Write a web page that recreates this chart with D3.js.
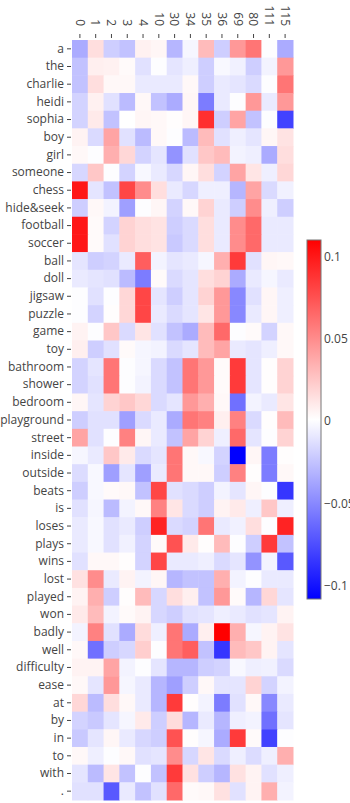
<!DOCTYPE html>
<html>
<head>
<meta charset="utf-8">
<script src="https://cdn.jsdelivr.net/npm/d3@7"></script>
<style>
    body { margin: 0; background: #fff; }
    text { font-family: "Open Sans", sans-serif; fill: #444; }
</style>
</head>
<body>
<div id="heatmap"></div>
<script>
const cols = ['0', '1', '2', '3', '4', '10', '30', '34', '35', '36', '69', '80', '111', '115'];

const rows = ['a', 'the', 'charlie', 'heidi', 'sophia', 'boy', 'girl', 'someone',
    'chess', 'hide&seek', 'football', 'soccer', 'ball', 'doll', 'jigsaw', 'puzzle',
    'game', 'toy', 'bathroom', 'shower', 'bedroom', 'playground', 'street', 'inside',
    'outside', 'beats', 'is', 'loses', 'plays', 'wins', 'lost', 'played', 'won',
    'badly', 'well', 'difficulty', 'ease', 'at', 'by', 'in', 'to', 'with', '.'];

// one row per word, one value per column
const values = [
    [-0.035, 0.015, -0.02, -0.025, 0.007, 0.005, -0.03, -0.003, 0.03, -0.02, 0.045, 0.06, 0, -0.035],
    [-0.025, 0.008, 0.007, 0.003, -0.012, 0, -0.01, -0.006, -0.02, -0.002, -0.005, -0.02, -0.004, 0.045],
    [-0.025, 0.015, 0.004, 0.004, -0.008, -0.008, -0.008, 0.004, -0.02, -0.008, -0.01, -0.015, 0, 0.06],
    [-0.018, 0.007, -0.012, -0.028, 0.004, -0.025, -0.035, 0.005, -0.055, -0.008, 0, 0.045, -0.008, 0.045],
    [-0.018, 0.01, -0.025, 0.001, 0.005, 0.004, 0.002, 0.005, 0.09, -0.02, 0.04, -0.025, 0, -0.08],
    [0.006, -0.015, 0.04, -0.012, -0.028, 0.004, 0, -0.028, 0.03, -0.012, -0.006, -0.01, 0.005, 0.013],
    [0.004, 0, 0.035, 0.018, -0.018, -0.01, -0.045, -0.012, 0.025, 0.03, -0.004, -0.006, -0.035, 0.015],
    [-0.016, 0.025, 0, -0.018, -0.002, -0.008, -0.016, 0.005, 0.015, -0.018, 0.04, 0.012, -0.006, 0.018],
    [0.1, -0.01, -0.025, 0.08, 0.05, 0.015, -0.008, -0.016, -0.006, -0.006, -0.03, 0.04, -0.015, -0.005],
    [-0.02, 0.004, -0.004, -0.04, 0, 0.005, -0.018, 0.004, 0.02, -0.008, -0.02, 0.05, -0.006, -0.02],
    [0.1, 0.003, -0.018, 0.02, 0.015, 0.013, -0.02, -0.015, 0.015, -0.008, 0.05, 0.065, -0.008, -0.008],
    [0.1, 0.003, -0.012, 0.02, 0.015, 0.013, -0.022, -0.015, 0.015, -0.008, 0.05, 0.065, -0.008, -0.008],
    [-0.01, -0.02, -0.018, -0.008, 0.07, -0.004, -0.01, -0.008, -0.003, 0.035, 0.085, -0.012, 0.005, 0.004],
    [-0.008, -0.01, -0.012, -0.028, -0.055, 0.003, -0.015, -0.01, 0.015, 0.02, -0.035, -0.008, -0.003, -0.008],
    [0, -0.012, 0, 0.018, 0.08, -0.01, -0.02, -0.01, 0.02, 0.045, -0.05, -0.012, 0.005, -0.006],
    [0, -0.018, 0.002, 0.018, 0.08, -0.008, -0.015, -0.01, 0.012, 0.045, -0.05, -0.008, 0.005, -0.006],
    [0.006, 0, 0.025, -0.015, 0.012, -0.012, -0.025, -0.035, 0.03, 0.065, 0, 0.003, -0.018, 0.004],
    [0.008, -0.02, -0.012, 0.003, -0.003, -0.004, -0.015, -0.01, 0.03, 0.04, -0.008, -0.01, -0.006, 0.004],
    [-0.018, -0.01, 0.06, 0, -0.003, -0.015, -0.025, 0.06, 0.045, 0.003, 0.085, -0.01, 0.002, 0.02],
    [-0.018, -0.012, 0.06, 0, -0.004, -0.015, -0.025, 0.06, 0.045, 0.003, 0.085, -0.01, 0.002, 0.02],
    [0.005, -0.01, 0.02, 0.025, 0.018, -0.015, -0.01, 0.045, 0.035, 0.004, -0.06, -0.004, -0.008, 0.012],
    [-0.02, -0.012, -0.012, -0.04, -0.015, -0.008, -0.035, 0.06, 0.055, 0.008, 0.055, -0.015, 0.002, 0.03],
    [0.04, -0.012, 0, 0.055, 0.005, -0.008, -0.025, 0.04, 0.02, -0.006, 0.065, -0.01, 0, 0.02],
    [-0.003, -0.008, 0.025, 0.01, -0.015, -0.01, 0.06, 0.004, -0.002, -0.018, -0.108, 0.005, -0.055, 0.002],
    [-0.014, -0.002, -0.04, -0.01, -0.04, -0.008, 0.06, 0.004, 0.004, -0.02, 0.055, 0.002, -0.055, 0.004],
    [-0.02, -0.002, 0.003, 0.004, -0.025, 0.08, -0.012, -0.015, -0.02, -0.004, -0.01, 0.005, 0, -0.085],
    [-0.012, -0.003, -0.028, -0.004, 0.004, 0.055, 0.012, -0.015, -0.02, 0.006, 0.01, -0.006, 0.025, -0.006],
    [-0.008, -0.002, -0.012, -0.008, -0.02, 0.095, -0.015, -0.018, 0.06, -0.008, -0.005, 0.015, 0, 0.095],
    [-0.008, -0.002, -0.012, -0.005, -0.018, 0.003, 0.075, 0.01, 0.002, 0.03, 0, -0.02, 0.085, -0.025],
    [-0.012, 0.004, 0.004, 0.002, -0.018, 0.08, -0.008, -0.008, -0.006, -0.015, -0.01, -0.045, -0.004, -0.07],
    [0.014, 0.05, -0.008, 0.006, -0.004, 0.005, -0.03, -0.025, -0.025, 0.035, -0.004, 0, -0.008, -0.008],
    [0.006, 0.035, -0.02, 0.002, 0.03, -0.016, 0.015, 0.008, -0.025, 0.045, 0.003, -0.03, 0.018, -0.01],
    [0.01, 0.03, -0.004, 0.003, 0.006, -0.016, -0.02, -0.012, -0.01, -0.006, -0.008, -0.012, -0.01, 0.006],
    [-0.004, 0.055, -0.012, -0.035, 0.016, -0.006, 0.06, -0.035, 0.008, 0.11, 0.035, -0.003, 0.006, 0.013],
    [0.004, -0.06, -0.02, -0.016, 0.022, 0, 0.06, 0.07, -0.025, -0.085, 0.03, 0.025, 0.006, -0.01],
    [0.006, 0.006, 0.04, -0.004, 0, -0.01, -0.03, -0.03, -0.02, -0.018, -0.002, -0.006, -0.005, -0.015],
    [0.004, -0.01, 0.045, -0.003, -0.008, -0.03, -0.04, -0.02, 0.004, -0.01, -0.01, 0.02, -0.018, -0.004],
    [0.018, -0.028, 0.015, 0.004, -0.008, -0.03, 0.085, 0.002, -0.004, -0.055, -0.012, 0.004, -0.05, -0.008],
    [-0.018, -0.022, -0.01, -0.003, 0.01, -0.02, 0.016, -0.03, -0.008, -0.03, -0.006, -0.004, -0.06, -0.01],
    [-0.022, -0.01, 0.005, -0.008, -0.016, -0.02, 0.075, 0.002, -0.003, -0.035, 0.085, 0.003, -0.08, 0],
    [0.004, -0.006, 0, 0.004, -0.012, -0.01, 0.05, -0.016, 0.012, -0.015, -0.006, -0.014, -0.006, 0.035],
    [-0.01, -0.028, 0.012, -0.025, 0, -0.025, 0.085, 0.014, -0.02, -0.03, 0.014, 0.006, -0.012, -0.006],
    [-0.012, -0.012, -0.07, -0.008, -0.025, -0.012, 0.065, 0.003, 0.004, 0.014, -0.012, 0.006, 0.035, -0.004]
];

const colorTicks = [0.1, 0.05, 0, -0.05, -0.1];

const width = 350;
const height = 803;
const plotLeft = 72, plotRight = 293, plotTop = 40, plotBottom = 800;

const zMin = d3.min(values.flat());
const zMax = d3.max(values.flat());

const svg = d3.select('#heatmap')
    .append('svg')
    .attr('width', width)
    .attr('height', height);

const xScale = d3.scaleBand().domain(cols).range([plotLeft, plotRight]);
const yScale = d3.scaleBand().domain(rows).range([plotTop, plotBottom]);

// blue - white - red
const color = d3.scaleLinear()
    .domain([zMin, (zMin + zMax) / 2, zMax])
    .range(['rgb(0,0,255)', 'rgb(255,255,255)', 'rgb(255,0,0)'])
    .interpolate(d3.interpolateRgb);

const cells = [];
rows.forEach((r, i) => cols.forEach((c, j) => cells.push({ r: r, c: c, v: values[i][j] })));

svg.append('g')
    .selectAll('rect')
    .data(cells)
    .enter()
    .append('rect')
    .attr('x', d => xScale(d.c))
    .attr('y', d => yScale(d.r))
    .attr('width', xScale.bandwidth() + 0.5)
    .attr('height', yScale.bandwidth() + 0.5)
    .attr('fill', d => color(d.v));

//row labels
const yAxis = svg.append('g')
    .attr('transform', 'translate(' + (plotLeft - 1) + ',0)')
    .call(d3.axisLeft(yScale).tickSize(4).tickPadding(3));
yAxis.select('.domain').remove();
yAxis.selectAll('line').attr('stroke', '#444');
yAxis.selectAll('text').style('font-size', '12px').attr('fill', '#444');

//column labels, rotated
const xAxis = svg.append('g')
    .attr('transform', 'translate(0,' + (plotTop - 2) + ')')
    .call(d3.axisTop(xScale).tickSize(4).tickPadding(8));
xAxis.select('.domain').remove();
xAxis.selectAll('line').attr('stroke', '#444');
xAxis.selectAll('text')
    .style('font-size', '12px')
    .attr('fill', '#444')
    .attr('text-anchor', 'end')
    .attr('transform', 'rotate(90)')
    .attr('x', -12)
    .attr('y', 0)
    .attr('dy', '0.35em');

//colorbar
const cbX = 307, cbW = 14, cbTop = 240, cbBottom = 599;
const cScale = d3.scaleLinear().domain([zMin, zMax]).range([cbBottom, cbTop]);

const grad = svg.append('defs')
    .append('linearGradient')
    .attr('id', 'cb-gradient')
    .attr('x1', 0).attr('y1', 1)
    .attr('x2', 0).attr('y2', 0);

grad.selectAll('stop')
    .data(d3.range(0, 1.0001, 0.05))
    .enter()
    .append('stop')
    .attr('offset', d => d)
    .attr('stop-color', d => color(zMin + d * (zMax - zMin)));

svg.append('rect')
    .attr('x', cbX)
    .attr('y', cbTop)
    .attr('width', cbW)
    .attr('height', cbBottom - cbTop)
    .attr('fill', 'url(#cb-gradient)')
    .attr('stroke', '#777')
    .attr('stroke-width', 1);

const cAxis = svg.append('g')
    .attr('transform', 'translate(' + (cbX + cbW) + ',0)')
    .call(d3.axisRight(cScale)
        .tickValues(colorTicks)
        .tickSize(0)
        .tickPadding(3)
        .tickFormat(d => d === 0 ? '0' : d3.format('')(d).replace('-', '\u2212')));
cAxis.select('.domain').remove();
cAxis.selectAll('text').style('font-size', '12px').attr('fill', '#444');
</script>
</body>
</html>
